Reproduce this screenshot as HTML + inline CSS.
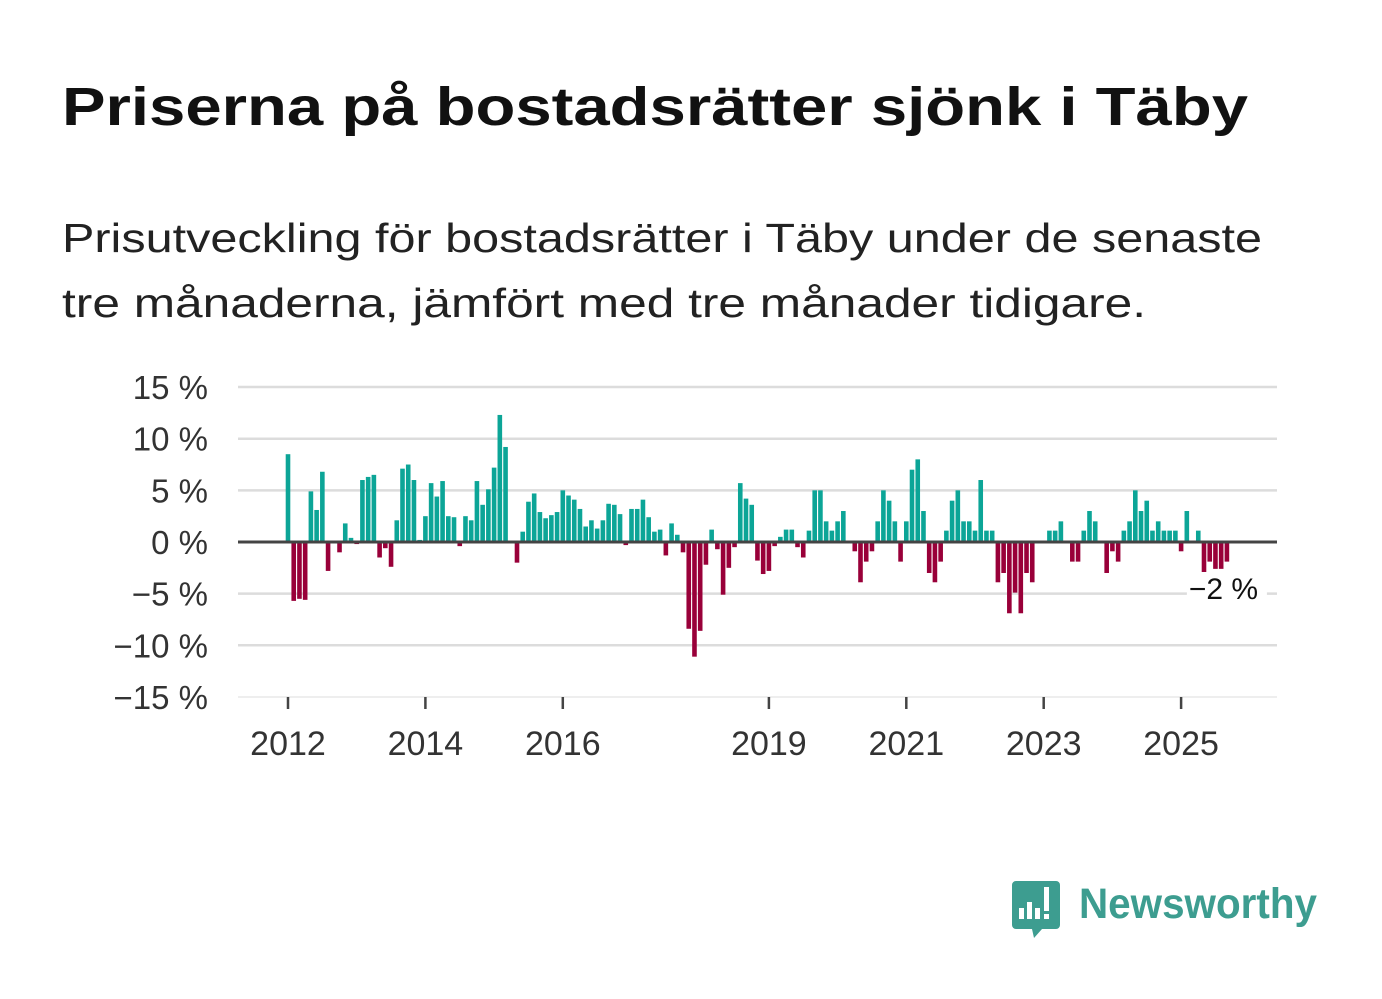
<!DOCTYPE html>
<html><head><meta charset="utf-8">
<style>
html,body{margin:0;padding:0;background:#fff;}
svg{display:block;font-family:"Liberation Sans",sans-serif;}
</style></head>
<body>
<svg id="chart" width="1382" height="999" viewBox="0 0 1382 999" xmlns="http://www.w3.org/2000/svg">
<text x="62" y="125" font-size="54" font-weight="bold" fill="#111" textLength="1186" lengthAdjust="spacingAndGlyphs">Priserna på bostadsrätter sjönk i Täby</text>
<text x="62" y="252" font-size="41" fill="#222" textLength="1200" lengthAdjust="spacingAndGlyphs">Prisutveckling för bostadsrätter i Täby under de senaste</text>
<text x="62" y="317" font-size="41" fill="#222" textLength="1084" lengthAdjust="spacingAndGlyphs">tre månaderna, jämfört med tre månader tidigare.</text>
<g id="grid"></g>
<g id="bars"></g>
<g id="axes"></g>
<g>
<path d="M1016 881 h40 a4 4 0 0 1 4 4 v40 a4 4 0 0 1 -4 4 h-14 l-8 9 l-2 -9 h-16 a4 4 0 0 1 -4 -4 v-40 a4 4 0 0 1 4 -4z" fill="#3d9d90"/>
<rect x="1019" y="908" width="5" height="11" fill="#fff"/>
<rect x="1027" y="902" width="5" height="17" fill="#fff"/>
<rect x="1035" y="908" width="5" height="11" fill="#fff"/>
<rect x="1044" y="887" width="5" height="24" fill="#fff"/>
<rect x="1044" y="914" width="5" height="5" fill="#fff"/>
<text x="1079" y="918" font-size="43" font-weight="bold" fill="#3d9d90" textLength="238" lengthAdjust="spacingAndGlyphs">Newsworthy</text>
</g>
</svg>
<script>
const values = [8.5,-5.7,-5.5,-5.6,4.9,3.1,6.8,-2.8,0,-1.0,1.8,0.4,-0.2,6.0,6.3,6.5,-1.5,-0.6,-2.4,2.1,7.1,7.5,6.0,0.2,
2.5,5.7,4.4,5.9,2.5,2.4,-0.4,2.5,2.1,5.9,3.6,5.1,7.2,12.3,9.2,0,-2.0,1.0,3.9,4.7,2.9,
2.3,2.6,2.9,5.0,4.5,4.1,3.2,1.5,2.1,1.3,2.1,3.7,3.6,2.7,-0.3,3.2,3.2,4.1,2.4,1.0,1.2,-1.3,1.8,0.7,-1.0,-8.4,-11.1,-8.6,-2.2,1.2,-0.7,-5.1,-2.5,-0.5,5.7,4.2,3.6,-1.8,-3.1,-2.8,-0.4,0.5,1.2,
1.2,-0.5,-1.5,1.1,5.0,5.0,2.0,1.1,2.0,3.0,0,-0.9,-3.9,-1.9,-0.9,2.0,5.0,4.0,2.0,-1.9,2.0,7.0,8.0,3.0,-3.0,-3.9,-1.9,1.1,4.0,5.0,2.0,2.0,1.1,6.0,1.1,1.1,-3.9,-3.0,-6.9,-4.9,-6.9,-3.0,-3.9,
0,0,1.1,1.1,2.0,0,-1.9,-1.9,1.1,3.0,2.0,0,-3.0,-0.9,-1.9,1.1,2.0,5.0,3.0,4.0,1.1,2.0,1.1,1.1,1.1,-0.9,3.0,0,1.1,-3.0,-1.9,-2.6,-2.6,-1.9];
const startYear = 2012;
const yTicks = [15,10,5,0,-5,-10,-15];
const yTickLabels = ["15 %","10 %","5 %","0 %","\u22125 %","\u221210 %","\u221215 %"];
const xTickYears = [2012,2014,2016,2019,2021,2023,2025];
const lastLabel = "\u22122 %";

const NS="http://www.w3.org/2000/svg";
const y = v => 542 - v*10.33;
const xm = i => 288 + i*5.725;
const xYear = yr => xm((yr-startYear)*12);
function mk(tag, attrs, parent){const e=document.createElementNS(NS,tag);for(const k in attrs)e.setAttribute(k,attrs[k]);parent.appendChild(e);return e;}
const grid=document.getElementById('grid'), bars=document.getElementById('bars'), axes=document.getElementById('axes');
yTicks.forEach((t,i)=>{
  if(t!==0){const l=mk('line',{x1:238,x2:1277,y1:y(t),y2:y(t),stroke:t===-15?'#e8e8e8':'#dcdcdc','stroke-width':t===-15?1.5:2.5},grid);
  
  }
  const tx=mk('text',{x:208,y:y(t)+12,'text-anchor':'end','font-size':33,fill:'#333'},axes);
  tx.textContent=yTickLabels[i];
  
  
});
values.forEach((v,i)=>{
  if(v===0)return;
  const r=mk('rect',{x:xm(i)-2.3,width:4.6,y:Math.min(y(v),y(0)),height:Math.abs(y(v)-y(0)),fill:v>0?'#0ca597':'#990039'},bars);
  
  
});
const z=mk('line',{x1:238,x2:1277,y1:y(0),y2:y(0),stroke:'#444','stroke-width':3},axes);


xTickYears.forEach(yr=>{
  const t=mk('line',{x1:xYear(yr),x2:xYear(yr),y1:697,y2:709,stroke:'#444','stroke-width':2.5},axes);
  
  
  const tx=mk('text',{x:xYear(yr),y:755,'text-anchor':'middle','font-size':34,fill:'#333'},axes);
  tx.textContent=String(yr);
  
  
});
const li=values.length-1;
const bg=mk('rect',{x:xm(li)-40,y:572,width:80,height:32,fill:'#fff'},axes);


const lt=mk('text',{x:xm(li)-38,y:599,'font-size':30,fill:'#111'},axes);
lt.textContent=lastLabel;


</script>
</body></html>
